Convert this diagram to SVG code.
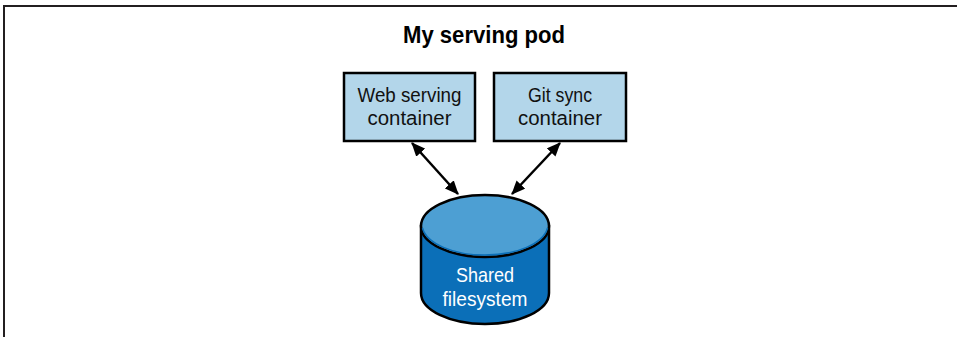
<svg xmlns="http://www.w3.org/2000/svg" width="957" height="337" viewBox="0 0 957 337">
<style>
.frame{fill:none;stroke:#231f20;stroke-width:2}
.box{fill:#b3d6ea;stroke:#000;stroke-width:2.5}
.lbl{font-family:"Liberation Sans",Arial,sans-serif;font-size:20px;fill:#111;text-anchor:middle}
.title{font-family:"Liberation Sans",Arial,sans-serif;font-size:24px;font-weight:bold;fill:#000;text-anchor:middle}
.wlbl{font-family:"Liberation Sans",Arial,sans-serif;font-size:21px;fill:#fff;text-anchor:middle}
.conn{stroke:#000;stroke-width:2.5;fill:none;marker-start:url(#ah);marker-end:url(#ah)}
</style>
<defs>
<marker id="ah" viewBox="0 0 14 12" refX="13" refY="6" markerWidth="14" markerHeight="12" markerUnits="userSpaceOnUse" orient="auto-start-reverse">
<path d="M0,0 L14,6 L0,12 Z" fill="#000"/>
</marker>
</defs>
<rect width="957" height="337" fill="#fff"/>
<path class="frame" d="M4,337 V6 H957"/>
<g id="title"><text class="title" x="484" y="43" textLength="162" lengthAdjust="spacingAndGlyphs">My serving pod</text></g>
<g id="web">
<rect class="box" x="344" y="73" width="131" height="68"/>
<text class="lbl" x="409.5" y="102" textLength="104" lengthAdjust="spacingAndGlyphs">Web serving</text>
<text class="lbl" x="409.5" y="125" textLength="84" lengthAdjust="spacingAndGlyphs">container</text>
</g>
<g id="git">
<rect class="box" x="494" y="73" width="132" height="68"/>
<text class="lbl" x="560" y="102" textLength="64" lengthAdjust="spacingAndGlyphs">Git sync</text>
<text class="lbl" x="560" y="125" textLength="84" lengthAdjust="spacingAndGlyphs">container</text>
</g>
<g id="fs">
<path d="M421,226 V293 A64,31 0 0 0 549,293 V226 Z" fill="#0b6fb8" stroke="#000" stroke-width="2.5"/>
<ellipse cx="485" cy="226" rx="64" ry="31" fill="#4d9fd3" stroke="#000" stroke-width="2.5"/>
<path d="M422.5,228 A63,31 0 0 0 547.5,228" fill="none" stroke="#0b6fb8" stroke-width="1.5"/>
<text class="wlbl" x="485" y="282" textLength="58" lengthAdjust="spacingAndGlyphs">Shared</text>
<text class="wlbl" x="485" y="306" textLength="85" lengthAdjust="spacingAndGlyphs">filesystem</text>
</g>
<g id="connectors">
<line class="conn" x1="412" y1="143" x2="458" y2="194"/>
<line class="conn" x1="560" y1="143" x2="512" y2="194"/>
</g>
</svg>
